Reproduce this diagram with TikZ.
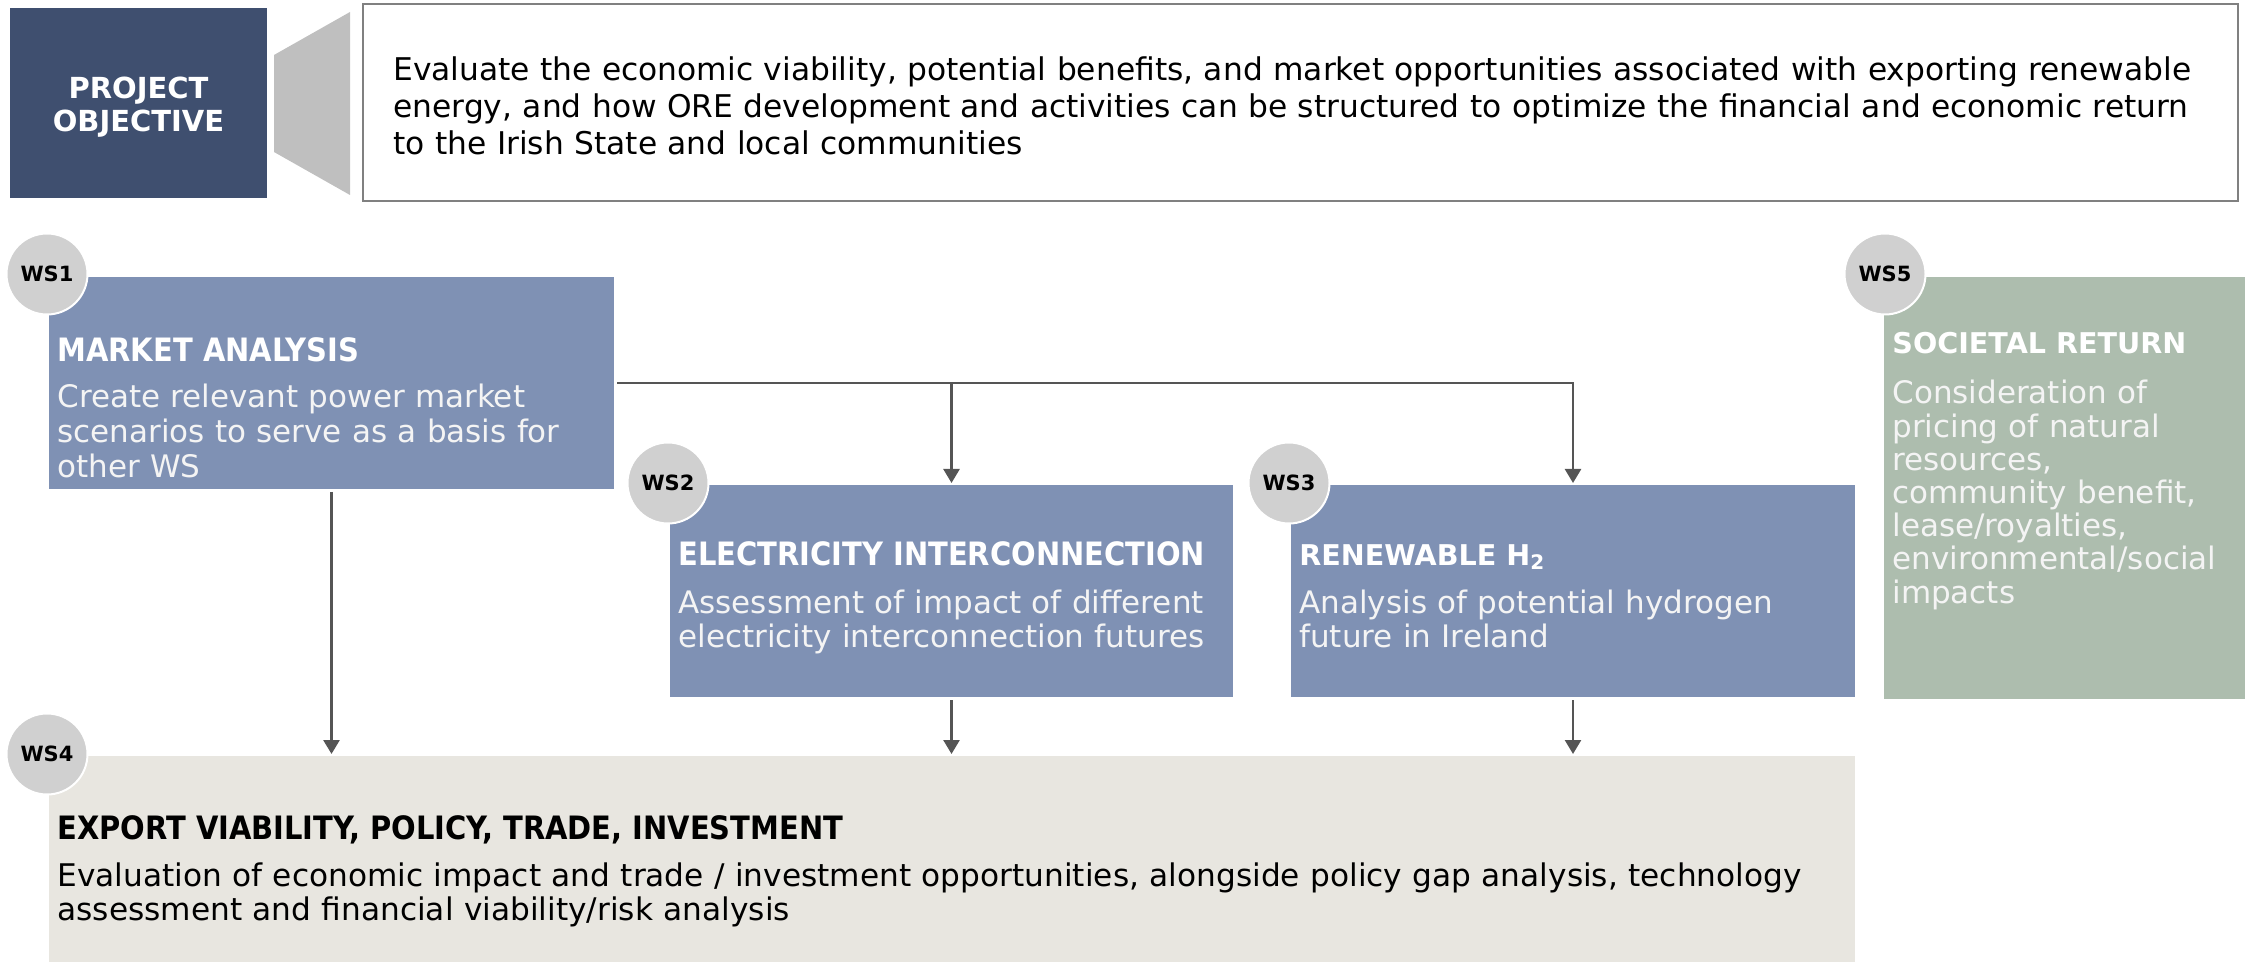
\documentclass[tikz,border=0pt]{standalone}
\usepackage{fontspec}
\setmainfont{DejaVu Sans}
\newfontfamily\condfont{DejaVu Sans Condensed}
\usetikzlibrary{arrows.meta,fit}

\definecolor{objblue}{HTML}{3F4F6F}
\definecolor{wsblue}{HTML}{7F91B4}
\definecolor{wsgreen}{HTML}{ADBDAE}
\definecolor{wsbeige}{HTML}{E8E6E0}
\definecolor{circgray}{HTML}{D0D0D0}
\definecolor{trapgray}{HTML}{BFBFBF}
\definecolor{framegray}{HTML}{808080}
\definecolor{linkgray}{HTML}{555555}
\definecolor{bodywhite}{HTML}{F4F4F4}

\begin{document}
\begin{tikzpicture}[
        x=0.5pt, y=-0.5pt,
        panel/.style={inner sep=0pt, outer sep=0pt},
        wscirc/.style={circle, fill=circgray, draw=white, line width=1pt,
            minimum size=40.5pt, inner sep=0pt, font=\bfseries\fontsize{10.5}{12}\selectfont},
        condtitle/.style={anchor=base west, inner sep=0pt, text=white,
            font=\condfont\bfseries\fontsize{16.1}{17}\selectfont},
        widetitle/.style={anchor=base west, inner sep=0pt, text=white,
            font=\bfseries\fontsize{14.3}{17}\selectfont},
        body/.style={anchor=base west, inner sep=0pt, align=left, text=bodywhite,
            font=\fontsize{15.5}{17.3}\selectfont},
        link/.style={draw=linkgray, line width=1.3pt, shorten <=1.5pt, shorten >=1pt,
            -{Triangle[width=8pt,length=7pt]}},
    ]
    \useasboundingbox (0,0) rectangle (2249,962);

    % objective
    \node[panel, fill=objblue, fit={(10,8) (267,198)}] (po) {};
    \node[align=center, inner sep=0pt, text=white, font=\bfseries\fontsize{14.5}{16.3}\selectfont]
        (potext) at ([yshift=-2pt]po.center) {PROJECT\\OBJECTIVE};
    \fill[trapgray] (274,55) -- (350,12) -- (350,195) -- (274,152) -- cycle;
    \node[panel, draw=framegray, line width=1pt, fit={(363,4) (2238,201)}] (obj) {};
    \node[body, text=black, text width=930pt, font=\fontsize{15.65}{18.3}\selectfont]
        (objtext) at ([shift={(30,77)}]obj.north west)
        {Evaluate the economic viability, potential benefits, and market opportunities associated with exporting renewable\\
         energy, and how ORE development and activities can be structured to optimize the financial and economic return\\
         to the Irish State and local communities};

    % work streams
    \node[panel, fill=wsblue, fit={(49,277) (614,489)}] (ws1) {};
    \node[panel, fill=wsblue, fit={(670,485) (1233,697)}] (ws2) {};
    \node[panel, fill=wsblue, fit={(1291,485) (1855,697)}] (ws3) {};
    \node[panel, fill=wsbeige, fit={(49,756) (1855,962)}] (ws4) {};
    \node[panel, fill=wsgreen, fit={(1884,277) (2245,699)}] (ws5) {};

    \node[condtitle] (ws1title) at ([shift={(8,85)}]ws1.north west) {MARKET ANALYSIS};
    \node[body, text width=275pt] (ws1text) at ([shift={(8,131)}]ws1.north west)
        {Create relevant power market\\ scenarios to serve as a basis for\\ other WS};
    \node[condtitle] (ws2title) at ([shift={(8,80)}]ws2.north west) {ELECTRICITY INTERCONNECTION};
    \node[body, text width=275pt] (ws2text) at ([shift={(8,128)}]ws2.north west)
        {Assessment of impact of different\\ electricity interconnection futures};
    \node[widetitle] (ws3title) at ([shift={(8,80)}]ws3.north west) {RENEWABLE H\textsubscript{2}};
    \node[body, text width=275pt] (ws3text) at ([shift={(8,128)}]ws3.north west)
        {Analysis of potential hydrogen\\ future in Ireland};
    \node[condtitle, text=black] (ws4title) at ([shift={(8,83)}]ws4.north west)
        {EXPORT VIABILITY, POLICY, TRADE, INVESTMENT};
    \node[body, text=black, text width=895pt, font=\fontsize{15.6}{17.3}\selectfont]
        (ws4text) at ([shift={(8,130)}]ws4.north west)
        {Evaluation of economic impact and trade / investment opportunities, alongside policy gap analysis, technology\\
         assessment and financial viability/risk analysis};
    \node[widetitle] (ws5title) at ([shift={(8,77)}]ws5.north west) {SOCIETAL RETURN};
    \node[body, text width=175pt, font=\fontsize{15.5}{16.6}\selectfont] (ws5text) at ([shift={(8,127)}]ws5.north west)
        {Consideration of\\ pricing of natural\\ resources,\\ community benefit,\\ lease/royalties,\\ environmental/social\\ impacts};

    % badges
    \foreach \pos/\name in {
            {(47,274)/1}, {(668,483)/2}, {(1289,483)/3}, {(47,754)/4}, {(1885,274)/5}}
        \node[wscirc] (c\name) at \pos {WS\name};

    % connectors
    \draw[link] (ws1.east) -| (ws3.north);
    \draw[link, shorten <=0pt] (ws1.east -| ws2.north) -- (ws2.north);
    \foreach \source in {ws1,ws2,ws3}
        \draw[link] (\source.south) -- (\source.south |- ws4.north);
\end{tikzpicture}
\end{document}
